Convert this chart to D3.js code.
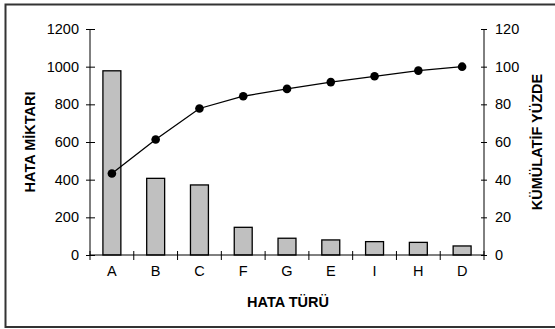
<!DOCTYPE html>
<html><head><meta charset="utf-8">
<script src="https://cdn.jsdelivr.net/npm/d3@7"></script>
<style>body{margin:0;background:#fff}svg{display:block}text{font-family:"Liberation Sans",Arial,sans-serif}</style>
</head><body><svg id="c" width="555" height="329"></svg>
<script>
const categories = ["A","B","C","F","G","E","I","H","D"];
const counts = [978, 407, 372, 147, 89, 80, 71, 67, 48];
const cumulativePct = [43.3, 61.3, 77.8, 84.3, 88.2, 91.8, 94.9, 97.9, 100];
const leftTicks = [0,200,400,600,800,1000,1200];
const rightTicks = [0,20,40,60,80,100,120];

const svg = d3.select("#c");
const L = 90, R = 484, T = 29, B = 255;
const fs = "14.5px";

svg.append("rect").attr("x",5.5).attr("y",4.5).attr("width",560).attr("height",322.5)
  .attr("fill","none").attr("stroke","#333").attr("stroke-width",2);

const x = d3.scaleBand().domain(categories).range([L,R]).paddingInner(0.59).paddingOuter(0.295);
const xb = d3.scaleBand().domain(categories).range([L,R]).padding(0);
const yL = d3.scaleLinear().domain([0,1200]).range([B,T]);
const yR = d3.scaleLinear().domain([0,120]).range([B,T]);

// bars
svg.append("g").selectAll("rect").data(counts).join("rect")
  .attr("x",(d,i)=>x(categories[i])).attr("y",d=>yL(d))
  .attr("width",x.bandwidth()).attr("height",d=>B-yL(d))
  .attr("fill","#c0c0c0").attr("stroke","#000").attr("stroke-width",1.3);

// left axis
const gl = svg.append("g").attr("transform",`translate(${L},0)`)
  .call(d3.axisLeft(yL).tickValues(leftTicks).tickFormat(d3.format("d")).tickSize(4).tickPadding(7));
gl.selectAll(".tick line").attr("x1",5).attr("x2",-4);
// right axis
const gr = svg.append("g").attr("transform",`translate(${R},0)`)
  .call(d3.axisRight(yR).tickValues(rightTicks).tickFormat(d3.format("d")).tickSize(3).tickPadding(8));
gr.selectAll(".tick line").attr("x1",-3).attr("x2",3);
// bottom axis
const gb = svg.append("g").attr("transform",`translate(0,${B})`)
  .call(d3.axisBottom(x).tickSize(0).tickPadding(11));
// category boundary ticks
svg.append("g").selectAll("line").data(categories.slice(1)).join("line")
  .attr("x1",d=>xb(d)).attr("x2",d=>xb(d)).attr("y1",B-4).attr("y2",B+5)
  .attr("stroke","#000");
svg.append("line").attr("x1",L).attr("x2",L).attr("y1",B-4).attr("y2",B+5).attr("stroke","#000");
svg.append("line").attr("x1",R).attr("x2",R).attr("y1",B-4).attr("y2",B+5).attr("stroke","#000");

[gl,gr,gb].forEach(g=>{
  g.attr("font-size",fs).attr("font-family","Liberation Sans, Arial, sans-serif");
  g.selectAll("path.domain").attr("stroke","#000").attr("stroke-width",1);
  g.selectAll(".tick line").attr("stroke","#000");
  g.selectAll("text").attr("font-size",fs).attr("fill","#000");
});
gl.select("path.domain").attr("d",`M0,${T}V${B}`);
gr.select("path.domain").attr("d",`M0,${T}V${B}`);
gb.select("path.domain").attr("d",`M${L},0H${R}`);

// line
const line = d3.line().x((d,i)=>x(categories[i])+x.bandwidth()/2).y(d=>yR(d));
svg.append("path").datum(cumulativePct).attr("d",line).attr("fill","none").attr("stroke","#000").attr("stroke-width",1.3);
svg.append("g").selectAll("circle").data(cumulativePct).join("circle")
  .attr("cx",(d,i)=>x(categories[i])+x.bandwidth()/2).attr("cy",d=>yR(d)).attr("r",4.3).attr("fill","#000");

// titles
svg.append("text").attr("x",288).attr("y",306.5).attr("text-anchor","middle")
  .attr("font-size",fs).attr("font-weight","bold").text("HATA TÜRÜ");
svg.append("text").attr("transform",`translate(35,${(T+B)/2}) rotate(-90)`).attr("text-anchor","middle")
  .attr("font-size",fs).attr("font-weight","bold").text("HATA MİKTARI");
svg.append("text").attr("transform",`translate(542,${(T+B)/2}) rotate(-90)`).attr("text-anchor","middle")
  .attr("font-size",fs).attr("font-weight","bold").text("KÜMÜLATİF YÜZDE");
</script></body></html>
